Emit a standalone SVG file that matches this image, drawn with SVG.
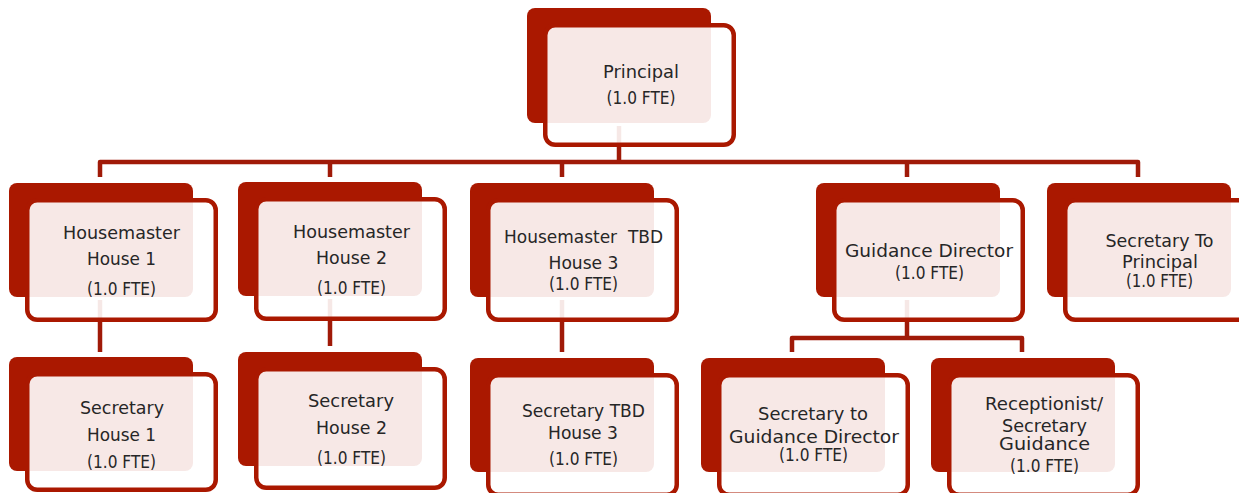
<svg xmlns="http://www.w3.org/2000/svg" width="1239" height="493" viewBox="0 0 1239 493">
<defs>
<style>
.bk{fill:#AA1800}
.ol{fill:#FFFFFF;fill-opacity:0.9;stroke:#AA1800;stroke-width:4.5}
.cn{fill:none;stroke:#A01A08;stroke-width:4.5;stroke-linejoin:round}
text{font-family:"DejaVu Sans","Liberation Sans",sans-serif;font-size:17px;fill:#262626;text-anchor:middle;white-space:pre}
</style>
</defs>
<rect width="1239" height="493" fill="#FFFFFF"/>
<g id="connectors">
<path class="cn" d="M619,126 V162"/>
<path class="cn" d="M100,177 V162 H1138 V177"/>
<path class="cn" d="M330,162 V177"/>
<path class="cn" d="M562,162 V177"/>
<path class="cn" d="M907,162 V177"/>
<path class="cn" d="M100,300 V352"/>
<path class="cn" d="M330,299 V346"/>
<path class="cn" d="M562,300 V352"/>
<path class="cn" d="M907,300 V338"/>
<path class="cn" d="M792,352 V338 H1022 V352"/>
</g>
<g id="principal">
<rect class="bk" x="527" y="8" width="184" height="115" rx="8"/>
<rect class="ol" x="545.25" y="25.25" width="188.5" height="119.5" rx="10"/>
<text x="641" y="78" textLength="76" lengthAdjust="spacingAndGlyphs">Principal</text>
<text x="641" y="104" textLength="69" lengthAdjust="spacingAndGlyphs">(1.0 FTE)</text>
</g>
<g id="housemaster1">
<rect class="bk" x="9" y="183" width="184" height="114" rx="8"/>
<rect class="ol" x="27.25" y="200.25" width="188.5" height="119.5" rx="10"/>
<text x="121.5" y="239" textLength="117" lengthAdjust="spacingAndGlyphs">Housemaster</text>
<text x="121.5" y="265" textLength="69" lengthAdjust="spacingAndGlyphs">House 1</text>
<text x="121.5" y="295" textLength="69" lengthAdjust="spacingAndGlyphs">(1.0 FTE)</text>
</g>
<g id="housemaster2">
<rect class="bk" x="238" y="182" width="184" height="114" rx="8"/>
<rect class="ol" x="256.25" y="199.25" width="188.5" height="119.5" rx="10"/>
<text x="351.5" y="238" textLength="117" lengthAdjust="spacingAndGlyphs">Housemaster</text>
<text x="351.5" y="264" textLength="71" lengthAdjust="spacingAndGlyphs">House 2</text>
<text x="351.5" y="294" textLength="69" lengthAdjust="spacingAndGlyphs">(1.0 FTE)</text>
</g>
<g id="housemaster3">
<rect class="bk" x="470" y="183" width="184" height="114" rx="8"/>
<rect class="ol" x="488.25" y="200.25" width="188.5" height="119.5" rx="10"/>
<text x="583.5" y="243" textLength="159" lengthAdjust="spacingAndGlyphs">Housemaster  TBD</text>
<text x="583.5" y="269" textLength="70" lengthAdjust="spacingAndGlyphs">House 3</text>
<text x="583.5" y="290" textLength="69" lengthAdjust="spacingAndGlyphs">(1.0 FTE)</text>
</g>
<g id="guidance-director">
<rect class="bk" x="816" y="183" width="184" height="114" rx="8"/>
<rect class="ol" x="834.25" y="200.25" width="188.5" height="119.5" rx="10"/>
<text x="929" y="257" textLength="168" lengthAdjust="spacingAndGlyphs">Guidance Director</text>
<text x="929.5" y="279" textLength="69" lengthAdjust="spacingAndGlyphs">(1.0 FTE)</text>
</g>
<g id="secretary-principal">
<rect class="bk" x="1047" y="183" width="184" height="114" rx="8"/>
<rect class="ol" x="1065.25" y="200.25" width="188.5" height="119.5" rx="10"/>
<text x="1159.5" y="247" textLength="108" lengthAdjust="spacingAndGlyphs">Secretary To</text>
<text x="1160" y="268" textLength="76" lengthAdjust="spacingAndGlyphs">Principal</text>
<text x="1159.5" y="287" textLength="67" lengthAdjust="spacingAndGlyphs">(1.0 FTE)</text>
</g>
<g id="secretary-house1">
<rect class="bk" x="9" y="357" width="184" height="114" rx="8"/>
<rect class="ol" x="27.25" y="374.25" width="188.5" height="115.5" rx="10"/>
<text x="122" y="414" textLength="84" lengthAdjust="spacingAndGlyphs">Secretary</text>
<text x="121.5" y="441" textLength="69" lengthAdjust="spacingAndGlyphs">House 1</text>
<text x="121.5" y="468" textLength="69" lengthAdjust="spacingAndGlyphs">(1.0 FTE)</text>
</g>
<g id="secretary-house2">
<rect class="bk" x="238" y="352" width="184" height="114" rx="8"/>
<rect class="ol" x="256.25" y="369.25" width="188.5" height="118.5" rx="10"/>
<text x="351" y="407" textLength="86" lengthAdjust="spacingAndGlyphs">Secretary</text>
<text x="351.5" y="434" textLength="71" lengthAdjust="spacingAndGlyphs">House 2</text>
<text x="351.5" y="464" textLength="69" lengthAdjust="spacingAndGlyphs">(1.0 FTE)</text>
</g>
<g id="secretary-house3">
<rect class="bk" x="470" y="358" width="184" height="114" rx="8"/>
<rect class="ol" x="488.25" y="375.25" width="188.5" height="119.5" rx="10"/>
<text x="583.5" y="417" textLength="123" lengthAdjust="spacingAndGlyphs">Secretary TBD</text>
<text x="583" y="439" textLength="70" lengthAdjust="spacingAndGlyphs">House 3</text>
<text x="583.5" y="465" textLength="69" lengthAdjust="spacingAndGlyphs">(1.0 FTE)</text>
</g>
<g id="secretary-guidance-director">
<rect class="bk" x="701" y="358" width="184" height="114" rx="8"/>
<rect class="ol" x="719.25" y="375.25" width="188.5" height="119.5" rx="10"/>
<text x="813" y="420" textLength="110" lengthAdjust="spacingAndGlyphs">Secretary to</text>
<text x="814" y="443" textLength="170" lengthAdjust="spacingAndGlyphs">Guidance Director</text>
<text x="813.5" y="461" textLength="69" lengthAdjust="spacingAndGlyphs">(1.0 FTE)</text>
</g>
<g id="receptionist">
<rect class="bk" x="931" y="358" width="184" height="114" rx="8"/>
<rect class="ol" x="949.25" y="375.25" width="188.5" height="119.5" rx="10"/>
<text x="1044" y="410" textLength="118" lengthAdjust="spacingAndGlyphs">Receptionist/</text>
<text x="1044.5" y="432" textLength="85" lengthAdjust="spacingAndGlyphs">Secretary</text>
<text x="1044.5" y="450" textLength="91" lengthAdjust="spacingAndGlyphs">Guidance</text>
<text x="1044.5" y="472" textLength="69" lengthAdjust="spacingAndGlyphs">(1.0 FTE)</text>
</g>
</svg>
